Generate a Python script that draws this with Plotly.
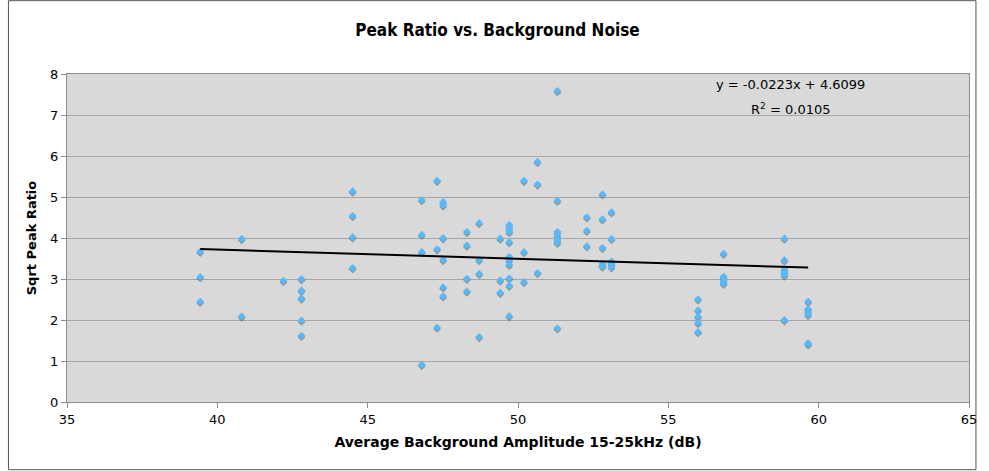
import plotly.graph_objects as go

# ---- data ----
bg_amplitude = (
    [39.43] * 3 + [40.81] * 2 + [42.2] + [42.8] * 5 + [44.5] * 4 +
    [46.8] * 4 + [47.31] * 3 + [47.51] * 6 + [48.3] * 4 + [48.71] * 4 +
    [49.41] * 3 + [49.71] * 10 + [50.2] * 3 + [50.65] * 3 + [51.31] * 7 +
    [52.29] * 3 + [52.81] * 5 + [53.11] * 5 + [55.99] * 5 + [56.84] * 5 +
    [58.86] * 6 + [59.65] * 6
)
sqrt_peak_ratio = [
    3.67, 3.05, 2.45,
    3.98, 2.09,
    2.96,
    3.00, 2.72, 2.53, 1.99, 1.62,
    5.14, 4.54, 4.02, 3.27,
    4.93, 4.08, 3.66, 0.91,
    5.40, 3.73, 1.82,
    4.88, 4.80, 4.00, 3.47, 2.80, 2.58,
    4.15, 3.82, 3.01, 2.70,
    4.37, 3.47, 3.13, 1.59,
    3.99, 2.97, 2.67,
    4.32, 4.24, 4.15, 3.90, 3.54, 3.45, 3.35, 3.02, 2.84, 2.10,
    5.40, 3.66, 2.93,
    5.86, 5.31, 3.15,
    7.59, 4.91, 4.15, 4.06, 3.96, 3.89, 1.80,
    4.51, 4.18, 3.80,
    5.07, 4.46, 3.76, 3.37, 3.31,
    4.63, 3.98, 3.43, 3.37, 3.29,
    2.51, 2.24, 2.08, 1.93, 1.71,
    3.62, 3.06, 3.01, 2.95, 2.89,
    3.99, 3.46, 3.24, 3.16, 3.09, 2.00,
    2.45, 2.27, 2.19, 2.13, 1.44, 1.41,
]
trend_slope = -0.0223
trend_intercept = 4.6099
r_squared = 0.0105
x_ticks = [35, 40, 45, 50, 55, 60, 65]
y_ticks = [0, 1, 2, 3, 4, 5, 6, 7, 8]

# trendline endpoints from the fitted equation
tx = [min(bg_amplitude), max(bg_amplitude)]
ty = [trend_slope * v + trend_intercept for v in tx]

FONT = "DejaVu Sans, Verdana, sans-serif"

fig = go.Figure()
# soft shadow under the markers (same data on an offset overlay axis)
fig.add_trace(go.Scatter(
    x=bg_amplitude, y=sqrt_peak_ratio, mode="markers", yaxis="y2",
    marker=dict(symbol="diamond", size=6, color="rgba(95,95,95,0.6)", line=dict(width=0), opacity=1),
    hoverinfo="skip", showlegend=False,
))
# main markers on a top overlay with the same range as the visible axis
fig.add_trace(go.Scatter(
    x=bg_amplitude, y=sqrt_peak_ratio, mode="markers", yaxis="y3",
    marker=dict(symbol="diamond", size=6, color="#56B9FA", line=dict(width=0), opacity=1),
    showlegend=False,
))
fig.add_trace(go.Scatter(
    x=tx, y=ty, mode="lines", yaxis="y3", line=dict(color="black", width=2),
    showlegend=False, hoverinfo="skip",
))

shadow_shift = 1.5 / 41.0

fig.update_layout(
    width=989, height=471,
    margin=dict(l=67, r=13, t=74, b=69),
    paper_bgcolor="white",
    plot_bgcolor="#D9D9D9",
    font=dict(family=FONT, size=13, color="black"),
    title=dict(
        text="<b>Peak Ratio vs. Background Noise</b>",
        font=dict(family="DejaVu Sans Condensed, DejaVu Sans, sans-serif", size=17, color="black"),
        x=0.503, xanchor="center", xref="container",
        y=1 - 30 / 471, yanchor="middle", yref="container",
    ),
    xaxis=dict(
        range=[35, 65], tickvals=x_ticks, ticktext=[str(v) for v in x_ticks],
        showgrid=False, zeroline=False,
        showline=True, linecolor="#8C8C8C", linewidth=1, mirror=True,
        ticks="outside", ticklen=5, tickcolor="#8C8C8C",
        tickfont=dict(family=FONT, size=13),
        title=dict(text="<b>Average Background Amplitude 15-25kHz (dB)</b>",
                   font=dict(family=FONT, size=14), standoff=11),
    ),
    yaxis=dict(
        range=[0, 8], tickvals=y_ticks, ticktext=[str(v) for v in y_ticks],
        showgrid=True, gridcolor="#A6A6A6", gridwidth=1, zeroline=False,
        showline=True, linecolor="#8C8C8C", linewidth=1, mirror=True,
        ticks="outside", ticklen=5, tickcolor="#8C8C8C",
        tickfont=dict(family=FONT, size=13),
        title=dict(text="<b>Sqrt Peak Ratio</b>", font=dict(family=FONT, size=13), standoff=10),
    ),
    yaxis2=dict(
        range=[0 + shadow_shift, 8 + shadow_shift], overlaying="y",
        visible=False, showgrid=False, zeroline=False,
    ),
    yaxis3=dict(
        range=[0, 8], overlaying="y",
        visible=False, showgrid=False, zeroline=False,
    ),
    annotations=[
        dict(x=59.07, y=7.74, xref="x", yref="y", showarrow=False,
             text=f"y = {trend_slope}x + {trend_intercept}",
             font=dict(family=FONT, size=13), xanchor="center", yanchor="middle"),
        dict(x=59.07, y=7.15, xref="x", yref="y", showarrow=False,
             text=f"R<sup>2</sup> = {r_squared}",
             font=dict(family=FONT, size=13), xanchor="center", yanchor="middle"),
    ],
    shapes=[
        dict(type="rect", xref="paper", yref="paper",
             x0=(8 - 67) / 909, x1=(983 - 67) / 909,
             y0=-(470 - 402.3) / 328, y1=1 + (74.3 - 1) / 328,
             line=dict(color="#555555", width=1), fillcolor="rgba(0,0,0,0)", layer="below"),
    ],
)

fig.write_html(
    "out.html",
    config={"displayModeBar": False},
    post_script="document.body.style.margin='0px';document.body.style.overflow='hidden';",
)
